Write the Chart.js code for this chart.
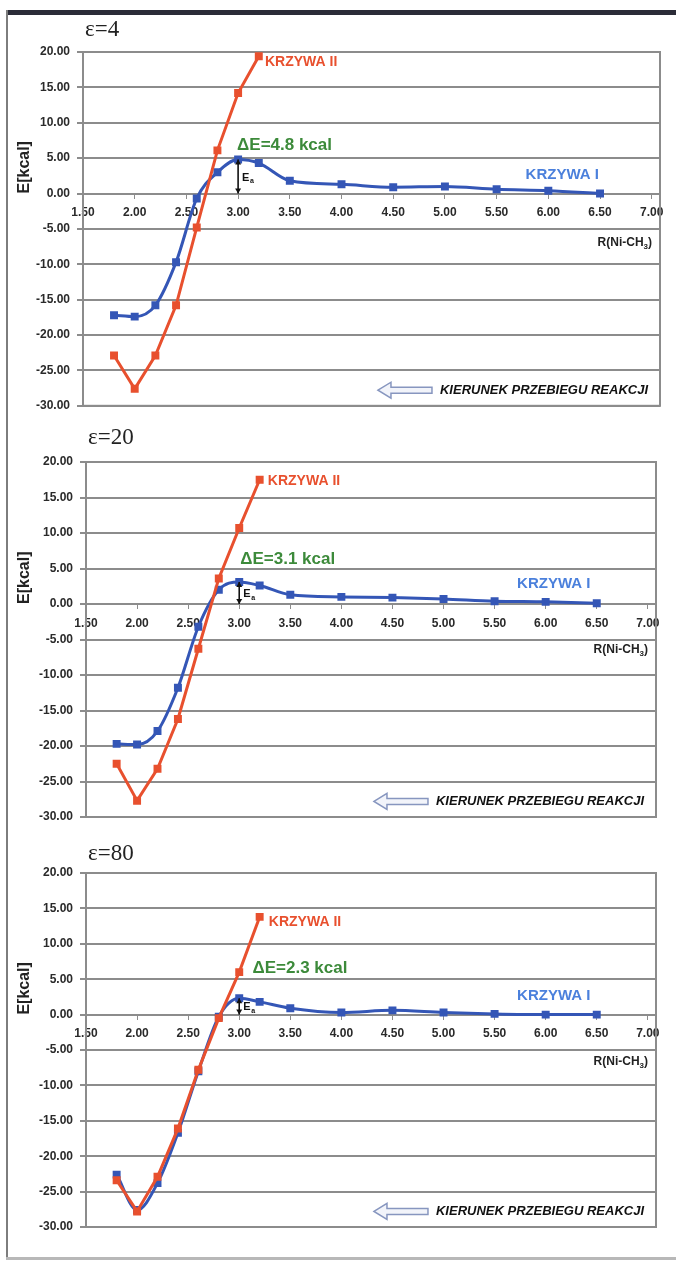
<!DOCTYPE html>
<html>
<head>
<meta charset="utf-8">
<script src="https://cdn.jsdelivr.net/npm/chart.js@4.4.1/dist/chart.umd.min.js"></script>
<style>
  html, body { margin: 0; padding: 0; background: #fff; }
  body { width: 676px; height: 1261px; position: relative; overflow: hidden; }
  .box { position: absolute; left: 0; width: 676px; }
  #topBar { position: absolute; left: 7px; top: 10px; width: 669px; height: 5px; background: #2b2c38; }
  #leftLine { position: absolute; left: 6px; top: 10px; width: 2px; height: 1249px; background: #7d7d7d; }
  #bottomLine { position: absolute; left: 6px; top: 1257px; width: 670px; height: 3px; background: #b8b8b8; }
</style>
</head>
<body>
<div id="topBar"></div>
<div id="leftLine"></div>
<div id="bottomLine"></div>
<div class="box" style="top:0;height:420px"><canvas id="c1" width="676" height="420"></canvas></div>
<div class="box" style="top:420px;height:420px"><canvas id="c2" width="676" height="420"></canvas></div>
<div class="box" style="top:840px;height:421px"><canvas id="c3" width="676" height="421"></canvas></div>
<script>
// R(Ni-CH3) distances
const xRed = [1.8, 2.0, 2.2, 2.4, 2.6, 2.8, 3.0, 3.2];
const xBlue = [1.8, 2.0, 2.2, 2.4, 2.6, 2.8, 3.0, 3.2, 3.5, 4.0, 4.5, 5.0, 5.5, 6.0, 6.5];
const xTicks = [1.5, 2.0, 2.5, 3.0, 3.5, 4.0, 4.5, 5.0, 5.5, 6.0, 6.5, 7.0];

// eps = 4
const eps4Red = [-22.9, -27.6, -22.9, -15.8, -4.8, 6.1, 14.2, 19.4];
const eps4Blue = [-17.2, -17.4, -15.8, -9.7, -0.7, 3.0, 4.8, 4.3, 1.8, 1.3, 0.9, 1.0, 0.6, 0.4, 0.0];
// eps = 20
const eps20Red = [-22.5, -27.7, -23.2, -16.2, -6.3, 3.6, 10.7, 17.5];
const eps20Blue = [-19.7, -19.8, -17.9, -11.8, -3.2, 2.0, 3.1, 2.6, 1.3, 1.0, 0.9, 0.7, 0.4, 0.3, 0.1];
// eps = 80
const eps80Red = [-23.4, -27.8, -22.9, -16.1, -7.8, -0.5, 6.0, 13.8];
const eps80Blue = [-22.6, -27.6, -23.8, -16.7, -8.0, -0.3, 2.3, 1.8, 0.9, 0.3, 0.6, 0.3, 0.1, 0.0, 0.0];

const redCol = '#e8502e';
const blueCol = '#3456b6';
const gridCol = '#8c8c8c';
const tickFont = { family: 'Liberation Sans, Arial, sans-serif', size: 12, weight: 'bold' };

function pts(xs, ys) {
  return xs.map((x, i) => ({ x: x, y: ys[i] }));
}

const decor = {
  id: 'decor',
  beforeDatasetsDraw(chart) {
    const { ctx, chartArea: a } = chart;
    ctx.save();
    ctx.strokeStyle = gridCol;
    ctx.lineWidth = 2;
    ctx.strokeRect(a.left, a.top, a.right - a.left, a.bottom - a.top);
    ctx.restore();
  },
  afterDatasetsDraw(chart, args, o) {
    const { ctx, chartArea: a, scales: { x, y } } = chart;
    ctx.save();
    // panel title
    ctx.fillStyle = '#222';
    ctx.font = '23px "Liberation Serif", serif';
    ctx.textBaseline = 'middle';
    ctx.textAlign = 'left';
    ctx.fillText(o.eps, a.left + 2, a.top - o.titleGap);

    // y axis title
    ctx.save();
    ctx.translate(25, y.getPixelForValue(0));
    ctx.rotate(-Math.PI / 2);
    ctx.font = 'bold 16px "Liberation Sans", sans-serif';
    ctx.fillStyle = '#222';
    ctx.textAlign = 'left';
    ctx.textBaseline = 'middle';
    ctx.fillText('E[kcal]', 0, 0);
    ctx.restore();

    // curve labels
    ctx.font = 'bold 14px "Liberation Sans", sans-serif';
    ctx.fillStyle = redCol;
    ctx.fillText('KRZYWA II', x.getPixelForValue(o.k2[0]), y.getPixelForValue(o.k2[1]));
    ctx.fillStyle = '#4b80dc';
    ctx.font = 'bold 15px "Liberation Sans", sans-serif';
    ctx.fillText('KRZYWA I', x.getPixelForValue(o.k1[0]), y.getPixelForValue(o.k1[1]));
    ctx.fillStyle = '#3c8a3a';
    ctx.font = 'bold 17px "Liberation Sans", sans-serif';
    ctx.fillText(o.dE, x.getPixelForValue(o.dEpos[0]), y.getPixelForValue(o.dEpos[1]));

    // barrier arrow
    const ax = x.getPixelForValue(3.0);
    const y0 = y.getPixelForValue(0);
    const y1 = y.getPixelForValue(o.barrier);
    ctx.strokeStyle = '#111';
    ctx.fillStyle = '#111';
    ctx.lineWidth = 1.6;
    ctx.beginPath();
    ctx.moveTo(ax, y0); ctx.lineTo(ax, y1);
    ctx.stroke();
    [[y1, 1], [y0, -1]].forEach(([yy, d]) => {
      ctx.beginPath();
      ctx.moveTo(ax, yy);
      ctx.lineTo(ax - 3, yy + 5 * d);
      ctx.lineTo(ax + 3, yy + 5 * d);
      ctx.closePath();
      ctx.fill();
    });
    ctx.font = 'bold 11px "Liberation Sans", sans-serif';
    ctx.fillText('E', ax + 4, (y0 + y1) / 2 + 1);
    ctx.font = 'bold 7px "Liberation Sans", sans-serif';
    ctx.fillText('a', ax + 12, (y0 + y1) / 2 + 5);

    // x axis name
    ctx.font = 'bold 12px "Liberation Sans", sans-serif';
    ctx.fillStyle = '#222';
    const ry = y.getPixelForValue(o.rY);
    const w1 = ctx.measureText('R(Ni-CH').width;
    ctx.font = 'bold 8px "Liberation Sans", sans-serif';
    const w2 = ctx.measureText('3').width;
    ctx.font = 'bold 12px "Liberation Sans", sans-serif';
    const w3 = ctx.measureText(')').width;
    let rx = a.right - 8 - (w1 + w2 + w3);
    ctx.fillText('R(Ni-CH', rx, ry);
    ctx.font = 'bold 8px "Liberation Sans", sans-serif';
    ctx.fillText('3', rx + w1, ry + 4);
    ctx.font = 'bold 12px "Liberation Sans", sans-serif';
    ctx.fillText(')', rx + w1 + w2, ry);

    // reaction direction
    const ky = y.getPixelForValue(-27.8);
    ctx.font = 'italic bold 13px "Liberation Sans", sans-serif';
    ctx.fillStyle = '#111';
    const kt = 'KIERUNEK PRZEBIEGU REAKCJI';
    const kw = ctx.measureText(kt).width;
    const kx = a.right - 12 - kw;
    ctx.fillText(kt, kx, ky);
    const ex = kx - 8, sx = ex - 54;
    ctx.beginPath();
    ctx.moveTo(sx, ky);
    ctx.lineTo(sx + 13, ky - 8);
    ctx.lineTo(sx + 13, ky - 3);
    ctx.lineTo(ex, ky - 3);
    ctx.lineTo(ex, ky + 3);
    ctx.lineTo(sx + 13, ky + 3);
    ctx.lineTo(sx + 13, ky + 8);
    ctx.closePath();
    ctx.fillStyle = '#f2f4fa';
    ctx.fill();
    ctx.strokeStyle = '#8796bf';
    ctx.lineWidth = 1.5;
    ctx.stroke();
    ctx.restore();
  }
};

function makeChart(id, red, blue, pad, deco) {
  return new Chart(document.getElementById(id), {
    type: 'line',
    data: {
      datasets: [
        {
          label: 'KRZYWA II',
          data: pts(xRed, red),
          borderColor: redCol,
          backgroundColor: redCol,
          borderWidth: 3,
          pointStyle: 'rect',
          pointRadius: 3.5,
          tension: 0
        },
        {
          label: 'KRZYWA I',
          data: pts(xBlue, blue),
          borderColor: blueCol,
          backgroundColor: blueCol,
          borderWidth: 3,
          pointStyle: 'rect',
          pointRadius: 3.5,
          cubicInterpolationMode: 'monotone'
        }
      ]
    },
    options: {
      responsive: false,
      animation: false,
      layout: { padding: pad },
      plugins: {
        legend: { display: false },
        tooltip: { enabled: false },
        decor: deco
      },
      scales: {
        x: {
          type: 'linear',
          position: { y: 0 },
          min: 1.5,
          max: 7.08,
          afterBuildTicks: s => { s.ticks = xTicks.map(v => ({ value: v })); },
          grid: { drawOnChartArea: false, color: gridCol, tickLength: 4, lineWidth: 1 },
          border: { color: gridCol, width: 2 },
          ticks: {
            color: '#2a2a2a',
            font: tickFont,
            padding: 8,
            maxRotation: 0,
            autoSkip: false,
            callback: v => v.toFixed(2)
          }
        },
        y: {
          min: -30,
          max: 20,
          afterFit: s => { s.width = 56; },
          grid: { color: gridCol, lineWidth: 2, tickLength: 6 },
          border: { color: gridCol, width: 2 },
          ticks: {
            stepSize: 5,
            color: '#2a2a2a',
            font: tickFont,
            padding: 7,
            callback: v => v.toFixed(2)
          }
        }
      }
    },
    plugins: [decor]
  });
}

makeChart('c1', eps4Red, eps4Blue, { top: 52, bottom: 13, left: 27, right: 16 }, {
  eps: 'ε=4', titleGap: 22, dE: 'ΔE=4.8 kcal', dEpos: [2.99, 6.8], barrier: 4.8,
  k2: [3.26, 18.5], k1: [5.78, 2.7], rY: -6.9
});
makeChart('c2', eps20Red, eps20Blue, { top: 42, bottom: 23, left: 30, right: 20 }, {
  eps: 'ε=20', titleGap: 24, dE: 'ΔE=3.1 kcal', dEpos: [3.01, 6.3], barrier: 3.1,
  k2: [3.28, 17.3], k1: [5.72, 2.8], rY: -6.5
});
makeChart('c3', eps80Red, eps80Blue, { top: 33, bottom: 34, left: 30, right: 20 }, {
  eps: 'ε=80', titleGap: 19, dE: 'ΔE=2.3 kcal', dEpos: [3.13, 6.5], barrier: 2.3,
  k2: [3.29, 13.1], k1: [5.72, 2.7], rY: -6.6
});
</script>
</body>
</html>
